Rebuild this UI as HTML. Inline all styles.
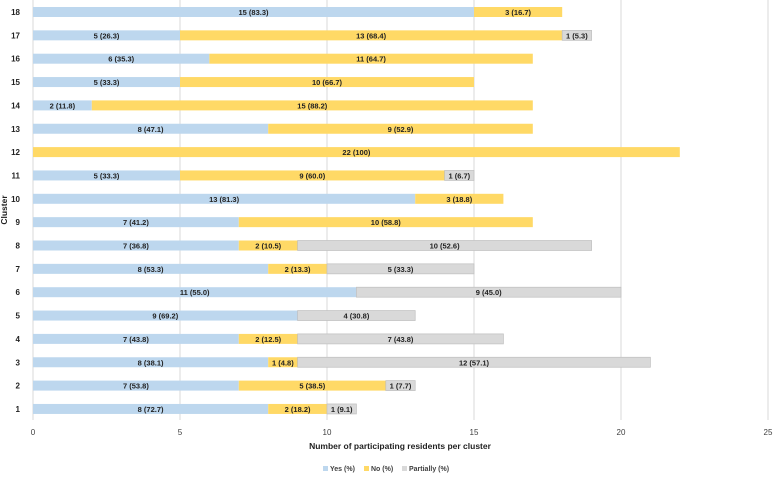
<!DOCTYPE html>
<html><head><meta charset="utf-8"><style>
body{margin:0;background:#fff;font-family:"Liberation Sans",sans-serif;}
svg text{font-family:"Liberation Sans",sans-serif;}
</style></head><body>
<svg id="c" width="778" height="475"></svg>
<script>
const clusters=[18,17,16,15,14,13,12,11,10,9,8,7,6,5,4,3,2,1];
const yes=[15,5,6,5,2,8,0,5,13,7,7,8,11,9,7,8,7,8];
const yesPct=["83.3","26.3","35.3","33.3","11.8","47.1","","33.3","81.3","41.2","36.8","53.3","55.0","69.2","43.8","38.1","53.8","72.7"];
const no=[3,13,11,10,15,9,22,9,3,10,2,2,0,0,2,1,5,2];
const noPct=["16.7","68.4","64.7","66.7","88.2","52.9","100","60.0","18.8","58.8","10.5","13.3","","","12.5","4.8","38.5","18.2"];
const part=[0,1,0,0,0,0,0,1,0,0,10,5,9,4,7,12,1,1];
const partPct=["","5.3","","","","","","6.7","","","52.6","33.3","45.0","30.8","43.8","57.1","7.7","9.1"];
const xTicks=[0,5,10,15,20,25];
const NS="http://www.w3.org/2000/svg";
const svg=document.getElementById('c');
const x0=33,sc=29.4;
const X=v=>x0+v*sc;
const Y=i=>12+i*23.35;
const bh=10;
function mk(t,a){const e=document.createElementNS(NS,t);for(const k in a)e.setAttribute(k,a[k]);svg.appendChild(e);return e;}
xTicks.forEach(t=>{
 const g=mk('line',{x1:X(t),x2:X(t),y1:0,y2:420,stroke:'#d9d9d9','stroke-width':1});
 
 
 const l=mk('text',{x:X(t),y:435,'font-size':8,'text-anchor':'middle',fill:'#404040'});
 l.textContent=t;
 
 
});
function seg(i,start,val,pct,fill,stroke,name){
 if(!val)return;
 const r=mk('rect',{x:X(start),y:Y(i)-bh/2,width:val*sc,height:bh,fill:fill});
 if(stroke){r.setAttribute('stroke',stroke);r.setAttribute('stroke-width',0.7);}
 
 
 const t=mk('text',{x:X(start+val/2),y:Y(i)+3,'font-size':7.5,'font-weight':'bold','text-anchor':'middle',fill:'#222'});
 t.textContent=val+' ('+pct+')';
 
 
}
clusters.forEach((c,i)=>{
 seg(i,0,yes[i],yesPct[i],'#bdd7ee',null,'bar-yes');
 seg(i,yes[i],no[i],noPct[i],'#ffd966',null,'bar-no');
 seg(i,yes[i]+no[i],part[i],partPct[i],'#d9d9d9','#bfbfbf','bar-partially');
 const l=mk('text',{x:20,y:Y(i)+3,'font-size':8,'font-weight':'bold','text-anchor':'end',fill:'#222'});
 l.textContent=c;
 
 
});
const yt=mk('text',{x:0,y:0,'font-size':8.5,'font-weight':'bold','text-anchor':'middle',fill:'#222',transform:'translate(7,210) rotate(-90)'});
yt.textContent='Cluster';


const xt=mk('text',{x:400,y:449,'font-size':8.5,'font-weight':'bold','text-anchor':'middle',fill:'#222'});
xt.textContent='Number of participating residents per cluster';


const leg=[['Yes (%)','#bdd7ee',323],['No (%)','#ffd966',364],['Partially (%)','#d9d9d9',402]];
leg.forEach(([n,c,lx])=>{
 const r=mk('rect',{x:lx,y:466,width:5,height:5,fill:c});
 
 
 const t=mk('text',{x:lx+7,y:471,'font-size':7,'font-weight':'bold',fill:'#404040'});
 t.textContent=n;
 
 
});
</script>
</body></html>
